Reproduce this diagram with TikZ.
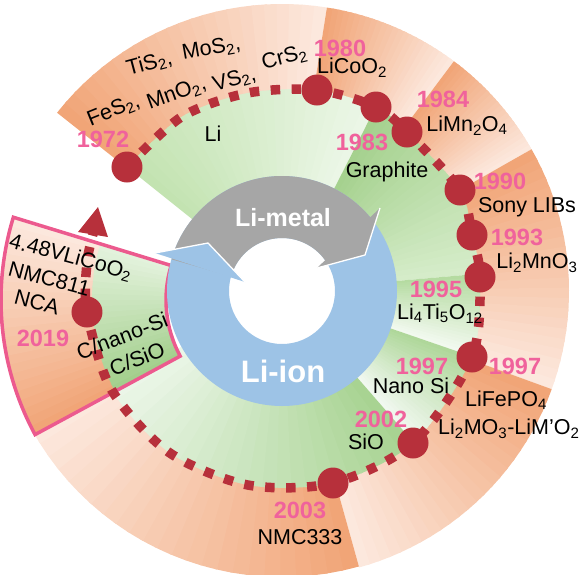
\documentclass[tikz,border=0pt]{standalone}
\usepackage{fontspec}
\setmainfont{Liberation Sans}
\definecolor{orD}{HTML}{F1A577}
\definecolor{orL}{HTML}{FCE8DD}
\definecolor{g1D}{HTML}{C3E3B1}
\definecolor{g1L}{HTML}{EBF6E6}
\definecolor{g2D}{HTML}{A5D18E}
\definecolor{g2L}{HTML}{D5ECC9}
\definecolor{g3D}{HTML}{B5DBA1}
\definecolor{g3L}{HTML}{F2F9EF}
\definecolor{g4D}{HTML}{AFD79A}
\definecolor{g4L}{HTML}{F1F8F0}
\definecolor{g5D}{HTML}{A8D392}
\definecolor{g5L}{HTML}{EBF6E8}
\definecolor{gbD}{HTML}{A3CF8C}
\definecolor{gbL}{HTML}{E3F2DC}
\definecolor{tred}{HTML}{B7303B}
\definecolor{ypink}{HTML}{F0629C}
\definecolor{boxpink}{HTML}{EC5A8E}
\definecolor{ringblue}{HTML}{9DC3E6}
\definecolor{arrgray}{HTML}{A6A6A6}
\newcommand{\sbs}[1]{\textsubscript{#1}}
% angular gradient annular sector: a1 (dark) , a2 (light), r1, r2, dark, light
\newcommand{\gsec}[6]{%
  \foreach \k in {1,...,24}{%
    \pgfmathsetmacro{\ta}{#1+((#2)-(#1))*(\k-1)/24}%
    \pgfmathsetmacro{\tb}{#1+((#2)-(#1))*\k/24-(\k<24)*0.6}%
    \pgfmathtruncatemacro{\pp}{100-100*(\k-1)/23}%
    \fill[#5!\pp!#6] (\ta:#3) arc[start angle=\ta,end angle=\tb,radius=#3]
      -- (\tb:#4) arc[start angle=\tb,end angle=\ta,radius=#4] -- cycle;
  }}
\tikzset{
  lbl/.style={font=\fontsize{21.5}{24}\selectfont, inner sep=0pt, text height=15.5pt, text depth=0pt},
  yr/.style={font=\bfseries\fontsize{23.5}{26}\selectfont, text=ypink, inner sep=0pt, text height=16.8pt, text depth=0pt},
  tdot/.style={circle, fill=tred, minimum size=31pt, inner sep=0pt},
  tline/.style={draw=tred, line width=9.5pt, dash pattern=on 9.5pt off 11.5pt},
  bigw/.style={text=white, inner sep=0pt},
  sepline/.style={draw=white, line width=1.3pt, line join=round},
}
\begin{document}
\begin{tikzpicture}[x=1pt,y=1pt]
\useasboundingbox (-282,-283) rectangle (303,291);
% ---- outer orange ring
\gsec{141.6}{81}{185}{287}{orD}{orL}
\gsec{81}{53.2}{185}{287}{orD}{orL}
\gsec{53.2}{29.6}{185}{287}{orD}{orL}
\gsec{29.6}{-20}{185}{287}{orD}{orL}
\gsec{-20}{-74.4}{185}{287}{orD}{orL}
\gsec{-74.4}{-151}{185}{286}{orD}{orL}
% ---- timeline points
\coordinate (c1972) at (-155,124);
\coordinate (m1) at (-100.5,174.1);
\coordinate (m2) at (-34.9,197.9);
\coordinate (c1980) at (35,201);
\coordinate (c1983) at (94,184);
\coordinate (c1984) at (125,159);
\coordinate (c1990) at (178,101);
\coordinate (c1993) at (190,56);
\coordinate (c1995) at (198,14);
\coordinate (c1997) at (190,-66);
\coordinate (c2002) at (131,-152);
\coordinate (c2003) at (51,-192);
\coordinate (m3) at (-34.2,-194);
\coordinate (m4) at (-113,-161.4);
\coordinate (m5) at (-170.6,-98.5);
\coordinate (c2019) at (-195,-21);
\coordinate (m6) at (-195.1,27.4);
\coordinate (tend) at (-189,57);
% ---- green inner ring, clipped by the timeline curve
\begin{scope}
\clip plot[smooth] coordinates {(c1972) (m1) (m2) (c1980) (c1983) (c1984) (c1990) (c1993) (c1995) (c1997) (c2002) (c2003) (m3) (m4) (m5) (c2019) (m6) (tend)} -- (0,0) -- cycle;
\gsec{141.6}{63}{112}{215}{g1D}{g1L}
\gsec{63}{5}{112}{215}{g2D}{g2L}
\gsec{5}{-19}{112}{215}{g3D}{g3L}
\gsec{-19}{-49}{112}{215}{g4D}{g4L}
\gsec{-49}{-151}{112}{215}{g5D}{g5L}
\end{scope}
% ---- highlighted 2019 wedge
\begin{scope}[shift={(2,-9)}]
\gsec{208.4}{163}{190}{283}{orD}{orL}
\gsec{208.4}{163}{118}{192}{gbD}{gbL}
\draw[boxpink, line width=3.5pt, line join=miter] (163:283) -- (163:118)
  arc[start angle=163,end angle=208.4,radius=118] -- (208.4:283)
  arc[start angle=208.4,end angle=163,radius=283] -- cycle;
\end{scope}
% ---- central cycle arrows
\fill[ringblue, even odd rule] (0,0) circle[radius=115] (0,0) circle[radius=53];
\fill[arrgray] (164:115) arc[start angle=164,end angle=35.5,radius=115]
  -- (35.5:53) arc[start angle=35.5,end angle=164,radius=53] -- cycle;
\fill[arrgray] (98,83) -- (83,36) -- (35,23) -- cycle;
\draw[sepline] (98,83) -- (83,36) -- (35,23);
\fill[ringblue] (-127,38) -- (-74,48) -- (-37,9) -- cycle;
\draw[sepline] (-127,38) -- (-74,48) -- (-37,9);
\node[bigw, font=\bfseries\fontsize{25}{28}\selectfont] (metal) at (1,73) {Li-metal};
\node[bigw, font=\bfseries\fontsize{31}{34}\selectfont] (ion) at (1,-80) {Li-ion};
% ---- timeline
\draw[tline] plot[smooth] coordinates {(c1972) (m1) (m2) (c1980) (c1983) (c1984) (c1990) (c1993) (c1995) (c1997) (c2002) (c2003) (m3) (m4) (m5) (c2019) (m6) (tend)};
\fill[tred] (-204,59) -- (-184,84) -- (-174,54) -- cycle;
\foreach \n in {1972,1980,1983,1984,1990,1993,1995,1997,2002,2003,2019}{
  \node[tdot] (d\n) at (c\n) {};
}
% ---- labels
\node[lbl, rotate=22] (t1) at (-169,182) {FeS\sbs{2},};
\node[lbl, rotate=20] (t2) at (-106,199) {MnO\sbs{2},};
\node[lbl, rotate=16] (t3) at (-48,213) {VS\sbs{2},};
\node[lbl, rotate=14] (t4) at (2,235) {CrS\sbs{2}};
\node[lbl, rotate=15] (t5) at (-133,229) {TiS\sbs{2},};
\node[lbl, rotate=10] (t6) at (-71,244) {MoS\sbs{2},};
\node[lbl] (lLi) at (-69,157) {Li};
\node[yr] (y1972) at (-179,152) {1972};
\node[yr] (y1980) at (58,243) {1980};
\node[lbl] (l1980) at (70,225) {LiCoO\sbs{2}};
\node[yr] (y1983) at (80,149) {1983};
\node[lbl] (l1983) at (105,121) {Graphite};
\node[yr] (y1984) at (161,192) {1984};
\node[lbl] (l1984) at (185,167) {LiMn\sbs{2}O\sbs{4}};
\node[yr] (y1990) at (218,110) {1990};
\node[lbl] (l1990) at (245,86) {Sony LIBs};
\node[yr] (y1993) at (235,54) {1993};
\node[lbl] (l1993) at (255,30) {Li\sbs{2}MnO\sbs{3}};
\node[yr] (y1995) at (154,2) {1995};
\node[lbl] (l1995) at (158,-21) {Li\sbs{4}Ti\sbs{5}O\sbs{12}};
\node[yr] (y1997a) at (140,-75) {1997};
\node[lbl] (l1997a) at (129,-95) {Nano Si};
\node[yr] (y1997b) at (233,-75) {1997};
\node[lbl] (l1997b) at (224,-108) {LiFePO\sbs{4}};
\node[lbl, anchor=west] (l1997c) at (156,-136) {Li\sbs{2}MO\sbs{3}-LiM’O\sbs{2}};
\node[yr] (y2002) at (99,-128) {2002};
\node[lbl] (l2002) at (84,-151) {SiO};
\node[yr] (y2003) at (18,-219) {2003};
\node[lbl] (l2003) at (18,-246) {NMC333};
\node[yr] (y2019) at (-239,-47) {2019};
\node[lbl, rotate=-15, anchor=base west] (b1) at (-274,44) {4.48VLiCoO\sbs{2}};
\node[lbl, rotate=-15, anchor=base west] (b2) at (-275,16) {NMC811};
\node[lbl, rotate=-15, anchor=base west] (b3) at (-269,-12) {NCA};
\node[lbl, rotate=21] (b4) at (-160,-45) {C/nano-Si};
\node[lbl, rotate=21] (b5) at (-145,-68) {C/SiO};
\end{tikzpicture}
\end{document}
